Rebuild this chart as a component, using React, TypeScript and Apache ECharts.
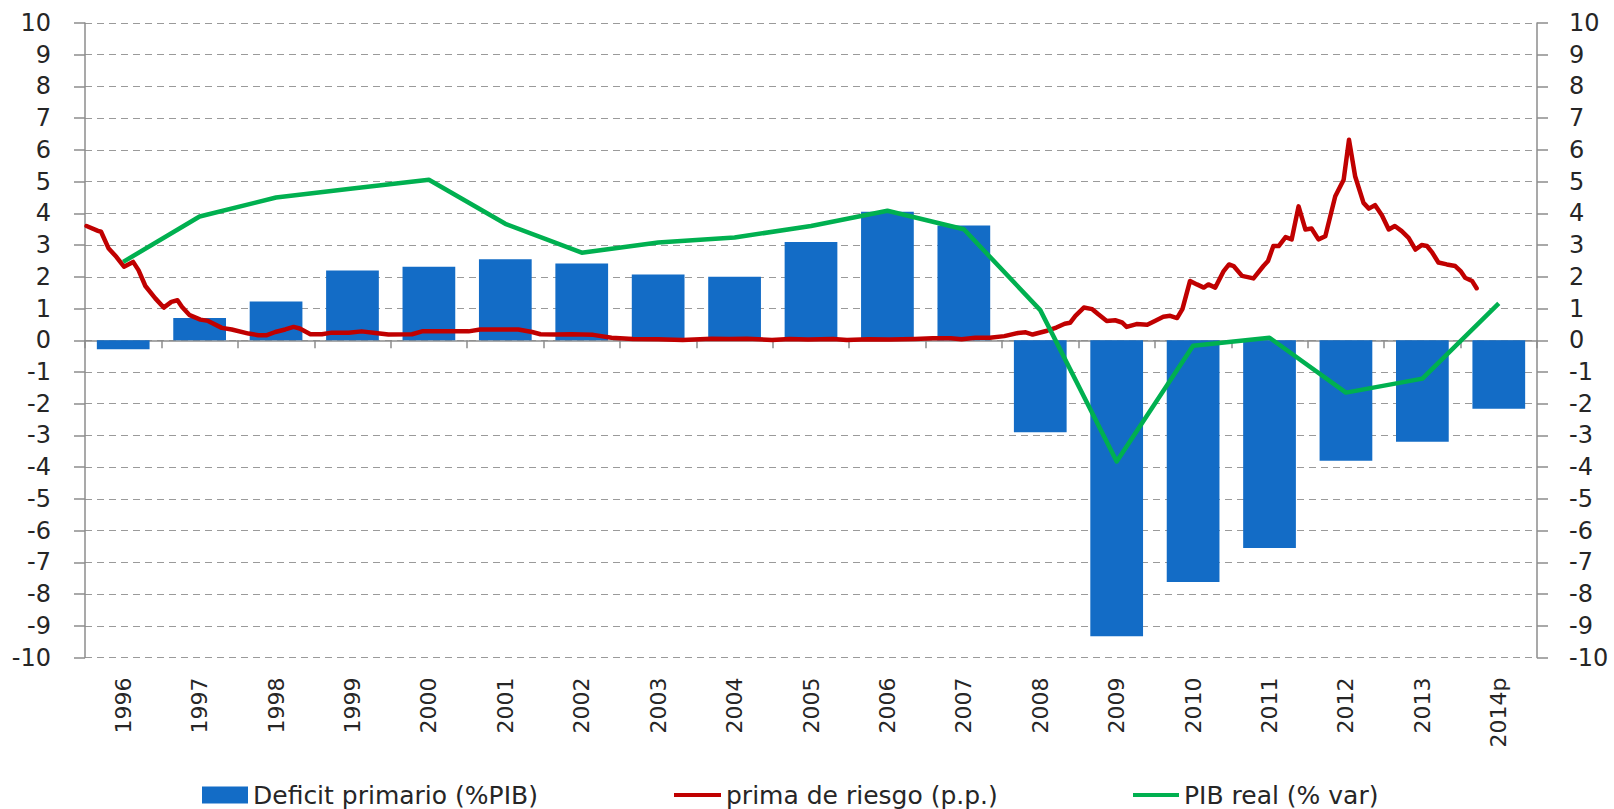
import React, { useEffect, useRef } from "react";
import * as echarts from "echarts";

const years = ["1996","1997","1998","1999","2000","2001","2002","2003","2004","2005","2006","2007","2008","2009","2010","2011","2012","2013","2014p"];
const deficitPrimario = [-0.28,0.7,1.22,2.2,2.32,2.55,2.42,2.07,2.0,3.1,4.05,3.62,-2.9,-9.33,-7.62,-6.55,-3.8,-3.2,-2.16];
const pibReal = [2.47,3.9,4.5,4.78,5.06,3.67,2.76,3.08,3.24,3.6,4.08,3.5,0.95,-3.82,-0.17,0.08,-1.65,-1.21,1.16];
// prima de riesgo: [year (decimal), p.p.]
const primaRiesgo: [number, number][] = [
  [1996.02,3.6],[1996.17,3.45],[1996.21,3.42],[1996.31,2.89],[1996.41,2.63],[1996.51,2.32],[1996.63,2.47],[1996.70,2.21],[1996.79,1.71],[1996.92,1.32],
  [1997.03,1.03],[1997.13,1.21],[1997.21,1.26],[1997.27,1.05],[1997.37,0.79],[1997.51,0.65],[1997.61,0.61],[1997.79,0.39],[1997.92,0.34],
  [1998.14,0.21],[1998.27,0.16],[1998.38,0.16],[1998.49,0.26],[1998.62,0.34],[1998.73,0.42],[1998.81,0.37],[1998.95,0.19],
  [1999.10,0.19],[1999.23,0.24],[1999.45,0.24],[1999.62,0.28],[1999.80,0.23],[1999.97,0.18],
  [2000.28,0.19],[2000.41,0.28],[2000.67,0.28],[2001.02,0.28],[2001.17,0.34],[2001.67,0.34],[2001.85,0.26],[2001.96,0.19],
  [2002.15,0.18],[2002.37,0.19],[2002.65,0.17],[2002.89,0.08],[2003.17,0.04],[2003.5,0.03],[2003.82,0.01],
  [2004.2,0.05],[2004.43,0.04],[2004.66,0.05],[2004.99,0.01],[2005.22,0.04],[2005.46,0.02],[2005.79,0.04],[2005.97,0.01],
  [2006.25,0.03],[2006.53,0.02],[2006.86,0.04],[2007.09,0.06],[2007.33,0.06],[2007.47,0.03],[2007.65,0.08],[2007.84,0.08],
  [2008.03,0.13],[2008.21,0.23],[2008.31,0.25],[2008.40,0.18],[2008.59,0.3],[2008.71,0.4],[2008.82,0.52],[2008.89,0.55],[2008.96,0.77],
  [2009.07,1.03],[2009.18,0.98],[2009.26,0.82],[2009.37,0.61],[2009.48,0.63],[2009.57,0.56],[2009.63,0.42],[2009.76,0.51],[2009.9,0.49],
  [2010.0,0.61],[2010.11,0.74],[2010.2,0.77],[2010.29,0.7],[2010.36,0.98],[2010.46,1.87],[2010.55,1.76],[2010.64,1.66],[2010.7,1.76],[2010.79,1.66],[2010.9,2.18],[2010.97,2.39],
  [2011.03,2.34],[2011.14,2.03],[2011.29,1.95],[2011.42,2.34],[2011.48,2.5],[2011.55,2.97],[2011.62,2.97],[2011.71,3.25],[2011.79,3.18],[2011.88,4.22],[2011.97,3.49],
  [2012.05,3.52],[2012.14,3.18],[2012.23,3.28],[2012.36,4.54],[2012.47,5.06],[2012.54,6.32],[2012.62,5.17],[2012.73,4.33],[2012.8,4.15],[2012.88,4.26],[2012.97,3.94],
  [2013.06,3.49],[2013.14,3.6],[2013.23,3.44],[2013.32,3.23],[2013.41,2.86],[2013.49,3.0],[2013.56,2.97],[2013.63,2.76],[2013.71,2.45],[2013.82,2.39],[2013.93,2.34],
  [2014.0,2.18],[2014.06,1.97],[2014.15,1.87],[2014.21,1.64]
];

const NAME_BAR = "Deficit primario (%PIB)";
const NAME_RED = "prima de riesgo (p.p.)";
const NAME_GREEN = "PIB real (% var)";

const AXIS_GREY = "#8c8c8c";
const LABEL_COLOR = "#262626";

export default function App() {
  const ref = useRef<HTMLDivElement>(null);
  useEffect(() => {
    if (!ref.current) return;
    const chart = echarts.init(ref.current, null, { renderer: "svg" });
    const yLabel = { fontFamily: "DejaVu Sans", fontSize: 24, color: LABEL_COLOR };
    const legendText = { fontFamily: "DejaVu Sans", fontSize: 25, color: LABEL_COLOR, lineHeight: 26 };
    chart.setOption({
      animation: false,
      backgroundColor: "#ffffff",
      grid: { left: 85, right: 77, top: 23, bottom: 151.5, containLabel: false },
      legend: [
        { data: [NAME_BAR], left: 202, top: 782, padding: 0, icon: "rect", itemWidth: 46, itemHeight: 17, textStyle: legendText },
        { data: [NAME_RED], left: 674, top: 782, padding: 0, icon: "rect", itemWidth: 47, itemHeight: 4, textStyle: legendText },
        { data: [NAME_GREEN], left: 1133, top: 782, padding: 0, icon: "rect", itemWidth: 46, itemHeight: 4, textStyle: legendText },
      ],
      xAxis: [
        {
          type: "category", data: years, position: "bottom", boundaryGap: true,
          axisLine: { show: true, onZero: true, lineStyle: { color: AXIS_GREY, width: 1.5 } },
          axisTick: { show: true, length: 8, inside: false, lineStyle: { color: AXIS_GREY, width: 1.5 } },
          axisLabel: { show: false }, splitLine: { show: false },
        },
        {
          type: "category", data: years, position: "bottom", boundaryGap: true,
          axisLine: { show: false, onZero: false }, axisTick: { show: false },
          axisLabel: { show: true, rotate: 90, margin: 20, fontFamily: "DejaVu Sans", fontSize: 22, color: LABEL_COLOR, interval: 0 },
          splitLine: { show: false },
        },
        { type: "value", min: 1996, max: 2015, show: false, position: "bottom" },
      ],
      yAxis: [
        {
          type: "value", min: -10, max: 10, interval: 1, position: "left",
          axisLine: { show: true, lineStyle: { color: AXIS_GREY, width: 1.5 } },
          axisTick: { show: true, length: 11, inside: false, lineStyle: { color: AXIS_GREY, width: 1.5 } },
          axisLabel: { ...yLabel, margin: 34 },
          splitLine: { show: true, lineStyle: { color: "#9a9a9a", width: 1.2, type: [7, 5] } },
        },
        {
          type: "value", min: -10, max: 10, interval: 1, position: "right",
          axisLine: { show: true, lineStyle: { color: AXIS_GREY, width: 1.5 } },
          axisTick: { show: true, length: 11, inside: false, lineStyle: { color: AXIS_GREY, width: 1.5 } },
          axisLabel: { ...yLabel, margin: 32 },
          splitLine: { show: false },
        },
      ],
      series: [
        {
          name: NAME_BAR, type: "bar", data: deficitPrimario, xAxisIndex: 0, yAxisIndex: 0,
          barWidth: "69%", itemStyle: { color: "#136cc6" }, z: 2,
        },
        {
          name: NAME_RED, type: "line", data: primaRiesgo, xAxisIndex: 2, yAxisIndex: 1,
          showSymbol: false, symbol: "none", smooth: false,
          lineStyle: { color: "#c00000", width: 4.5, join: "round", cap: "round" }, itemStyle: { color: "#c00000" }, z: 3,
        },
        {
          name: NAME_GREEN, type: "line", data: pibReal, xAxisIndex: 0, yAxisIndex: 1,
          showSymbol: false, symbol: "none", smooth: false,
          lineStyle: { color: "#00b050", width: 4.5, join: "round" }, itemStyle: { color: "#00b050" }, z: 4,
        },
      ],
    });
    return () => chart.dispose();
  }, []);
  return <div ref={ref} style={{ position: "absolute", left: 0, top: 0, width: 1614, height: 809 }} />;
}
